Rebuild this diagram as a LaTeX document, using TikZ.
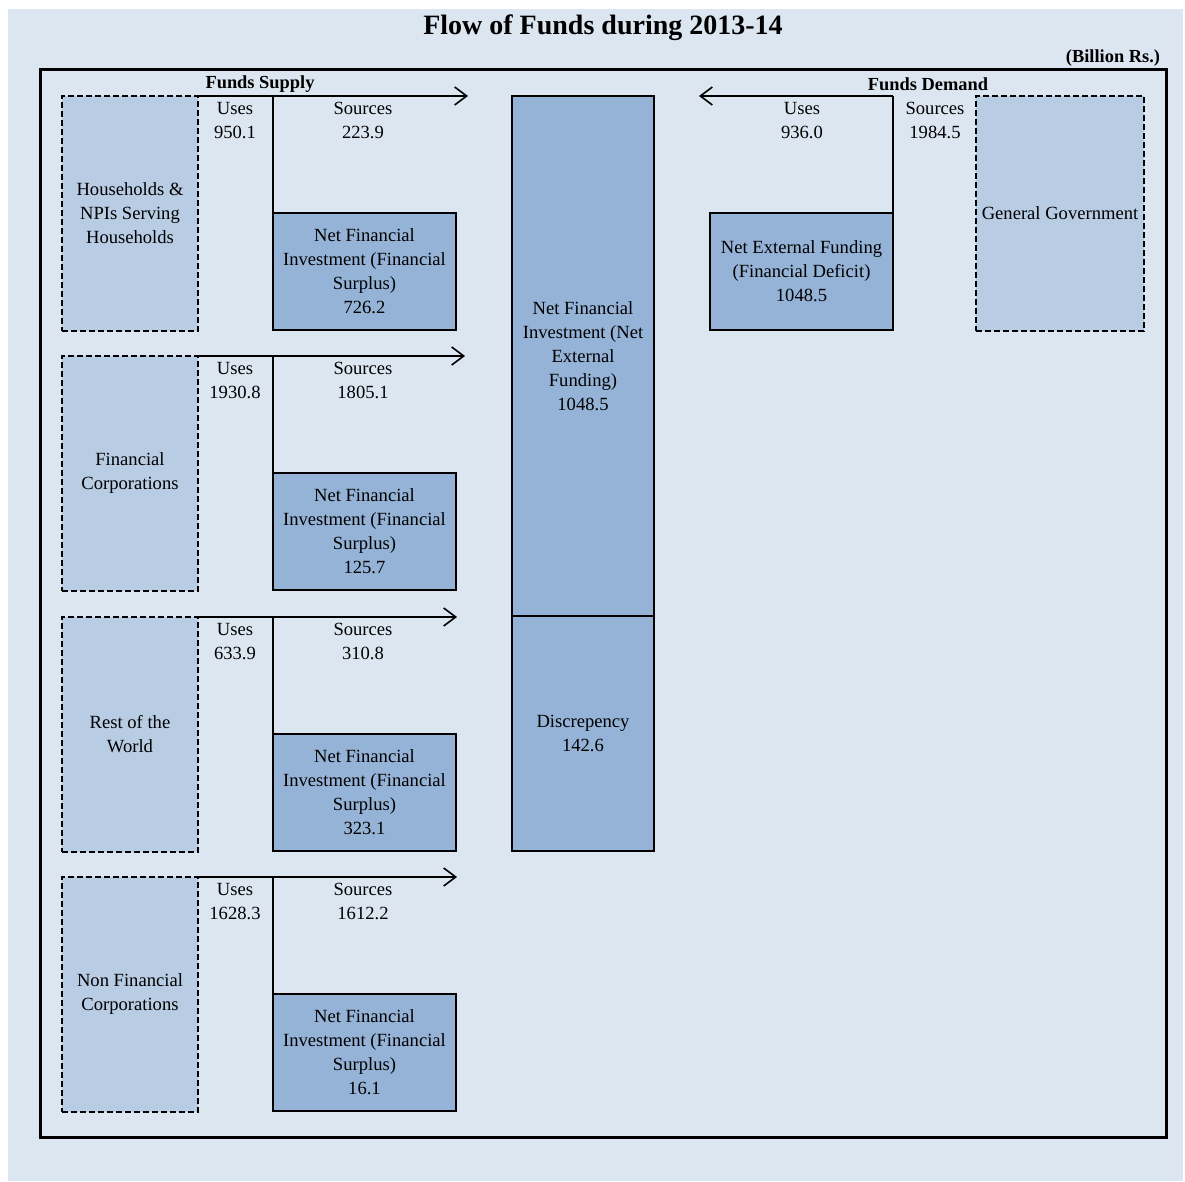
\documentclass[tikz,border=0pt]{standalone}
\usepackage{fontspec}
\setmainfont{Liberation Serif}
\usetikzlibrary{arrows.meta}
\definecolor{bgfill}{RGB}{220,230,241}
\definecolor{secfill}{RGB}{184,204,228}
\definecolor{nfifill}{RGB}{149,179,215}
\begin{document}
\begin{tikzpicture}[x=0.5pt,y=-0.5pt,
  every node/.style={font=\fontsize{9.3pt}{12pt}\selectfont, align=center, inner sep=0pt, outer sep=0pt},
  sector/.style={draw=black, fill=secfill, line width=1.25pt, dash pattern=on 3pt off 1.5pt, minimum width=68pt, minimum height=117.5pt},
  nfi/.style={draw=black, fill=nfifill, line width=1.4pt, minimum width=91.5pt, minimum height=58.5pt},
  conn/.style={line width=1.3pt},
  flow/.style={line width=1.1pt, -{Straight Barb[length=6pt,width=9pt,line width=0.8pt]}},
  hdr/.style={font=\bfseries\fontsize{9.2pt}{11pt}\selectfont}]
\useasboundingbox (0,0) rectangle (1185,1182);
\fill[bgfill] (8,9) rectangle (1183,1181);
\draw[line width=1.5pt] (40,70) rectangle (1166,1137);

\node[font=\bfseries\fontsize{14pt}{16pt}\selectfont] (title) at (603,28) {Flow of Funds during 2013-14};
\node[hdr, anchor=east] (unit) at (1160,58) {(Billion Rs.)};
\node[hdr] (supply) at (260,84) {Funds Supply};
\node[hdr] (demand) at (928,84) {Funds Demand};

% Group 1
\node[sector] (hh) at (130,213.5) {Households \&\\NPIs Serving\\Households};
\node[nfi] (nfi1) at (364.5,271.5) {Net Financial\\Investment (Financial\\Surplus)\\726.2};
\coordinate (t1) at (468,96);
\coordinate (j1) at (273,96);
\draw[flow] (hh.north east) -- (t1);
\draw[conn] (j1) -- (nfi1.north west);
\node (u1) at (235,120.5) {Uses\\950.1};
\node (s1) at (363,120.5) {Sources\\223.9};

% Group 2
\node[sector] (fc) at (130,473.5) {Financial\\Corporations};
\node[nfi] (nfi2) at (364.5,531.5) {Net Financial\\Investment (Financial\\Surplus)\\125.7};
\coordinate (t2) at (465,356);
\coordinate (j2) at (273,356);
\draw[flow] (fc.north east) -- (t2);
\draw[conn] (j2) -- (nfi2.north west);
\node (u2) at (235,380.5) {Uses\\1930.8};
\node (s2) at (363,380.5) {Sources\\1805.1};

% Group 3
\node[sector] (row) at (130,734.5) {Rest of the\\World};
\node[nfi] (nfi3) at (364.5,792.5) {Net Financial\\Investment (Financial\\Surplus)\\323.1};
\coordinate (t3) at (457,617);
\coordinate (j3) at (273,617);
\draw[flow] (row.north east) -- (t3);
\draw[conn] (j3) -- (nfi3.north west);
\node (u3) at (235,641.5) {Uses\\633.9};
\node (s3) at (363,641.5) {Sources\\310.8};

% Group 4
\node[sector] (nfc) at (130,994.5) {Non Financial\\Corporations};
\node[nfi] (nfi4) at (364.5,1052.5) {Net Financial\\Investment (Financial\\Surplus)\\16.1};
\coordinate (t4) at (457,877);
\coordinate (j4) at (273,877);
\draw[flow] (nfc.north east) -- (t4);
\draw[conn] (j4) -- (nfi4.north west);
\node (u4) at (235,901.5) {Uses\\1628.3};
\node (s4) at (363,901.5) {Sources\\1612.2};

% Centre column
\node[nfi, minimum width=71pt, minimum height=260pt] (nfe) at (583,356) {Net Financial\\Investment (Net\\External\\Funding)\\1048.5};
\node[nfi, minimum width=71pt, minimum height=117.5pt, anchor=north] (disc) at (nfe.south) {Discrepency\\142.6};

% Right side
\node[nfi] (nef) at (801.5,271.5) {Net External Funding\\(Financial Deficit)\\1048.5};
\node[sector, minimum width=84pt] (gg) at (1060,213.5) {General Government};
\coordinate (rj) at (893,96);
\coordinate (rt) at (699,96);
\draw[flow] (rj) -- (rt);
\draw[conn] (rj) -- (nef.north east);
\node (ru) at (802,120.5) {Uses\\936.0};
\node (rs) at (935,120.5) {Sources\\1984.5};
\end{tikzpicture}
\end{document}
